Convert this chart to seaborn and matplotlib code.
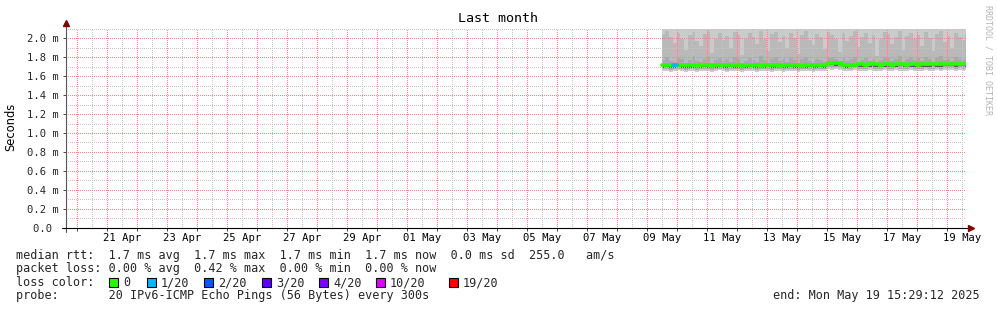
import matplotlib
matplotlib.use("Agg")
import matplotlib.pyplot as plt
import matplotlib.dates as mdates
from matplotlib.patches import Rectangle
from matplotlib.ticker import FuncFormatter, MultipleLocator, FixedLocator
import numpy as np
import pandas as pd
import seaborn as sns

# ---------------- data ----------------
title = "Last month"
start_time = "2025-04-19 15:29:12"
end_time = "2025-05-19 15:29:12"
data_start = "2025-05-09 12:00"
data_step = "3h"

median_ms = [1.72, 1.72, 1.715, 1.72, 1.72, 1.715, 1.715, 1.72, 1.715, 1.71,
             1.715, 1.72, 1.715, 1.71, 1.715, 1.72, 1.715, 1.72, 1.72, 1.715,
             1.715, 1.71, 1.715, 1.72, 1.715, 1.715, 1.71, 1.715, 1.72, 1.715,
             1.715, 1.71, 1.715, 1.715, 1.72, 1.715, 1.715, 1.71, 1.715, 1.72,
             1.715, 1.715, 1.72, 1.715, 1.745, 1.745, 1.74, 1.745, 1.72, 1.715,
             1.72, 1.72, 1.725, 1.725, 1.72, 1.725, 1.725, 1.725, 1.72, 1.725,
             1.725, 1.72, 1.725, 1.73, 1.725, 1.72, 1.725, 1.725, 1.72, 1.725,
             1.725, 1.725, 1.73, 1.725, 1.725, 1.73, 1.735, 1.73, 1.725, 1.73,
             1.73, 1.725]

smoke_min_ms = [1.655, 1.66, 1.65, 1.655, 1.665, 1.655, 1.65, 1.66, 1.655, 1.645,
                1.655, 1.66, 1.655, 1.65, 1.655, 1.665, 1.655, 1.65, 1.655, 1.66,
                1.655, 1.645, 1.655, 1.66, 1.655, 1.65, 1.655, 1.66, 1.655, 1.65,
                1.66, 1.655, 1.65, 1.655, 1.66, 1.655, 1.65, 1.655, 1.66, 1.655,
                1.65, 1.655, 1.66, 1.655, 1.675, 1.67, 1.675, 1.67, 1.66, 1.655,
                1.66, 1.665, 1.66, 1.655, 1.66, 1.665, 1.66, 1.655, 1.66, 1.665,
                1.66, 1.655, 1.665, 1.66, 1.66, 1.655, 1.665, 1.66, 1.655, 1.66,
                1.665, 1.66, 1.655, 1.665, 1.66, 1.665, 1.67, 1.665, 1.66, 1.665,
                1.66, 1.665]

smoke_q25_ms = [1.675, 1.68, 1.67, 1.675, 1.68, 1.675, 1.67, 1.675, 1.68, 1.67,
                1.675, 1.68, 1.675, 1.67, 1.675, 1.68, 1.675, 1.67, 1.675, 1.68,
                1.675, 1.67, 1.675, 1.68, 1.675, 1.67, 1.675, 1.68, 1.675, 1.67,
                1.68, 1.675, 1.67, 1.675, 1.68, 1.675, 1.67, 1.675, 1.68, 1.675,
                1.67, 1.675, 1.68, 1.675, 1.695, 1.69, 1.695, 1.69, 1.68, 1.675,
                1.68, 1.685, 1.68, 1.675, 1.68, 1.685, 1.68, 1.675, 1.68, 1.685,
                1.68, 1.675, 1.685, 1.68, 1.68, 1.675, 1.685, 1.68, 1.675, 1.68,
                1.685, 1.68, 1.675, 1.685, 1.68, 1.685, 1.69, 1.685, 1.68, 1.685,
                1.68, 1.685]

smoke_q45_ms = [1.69, 1.695, 1.685, 1.69, 1.695, 1.69, 1.685, 1.69, 1.69, 1.685,
                1.69, 1.695, 1.69, 1.685, 1.69, 1.695, 1.69, 1.69, 1.695, 1.69,
                1.69, 1.685, 1.69, 1.695, 1.69, 1.69, 1.685, 1.69, 1.695, 1.69,
                1.69, 1.685, 1.69, 1.69, 1.695, 1.69, 1.69, 1.685, 1.69, 1.695,
                1.69, 1.69, 1.695, 1.69, 1.715, 1.715, 1.71, 1.715, 1.695, 1.69,
                1.695, 1.695, 1.70, 1.70, 1.695, 1.70, 1.70, 1.70, 1.695, 1.70,
                1.70, 1.695, 1.70, 1.705, 1.70, 1.695, 1.70, 1.70, 1.695, 1.70,
                1.70, 1.70, 1.705, 1.70, 1.70, 1.705, 1.71, 1.705, 1.70, 1.705,
                1.705, 1.70]

smoke_mid_ms = [1.77, 1.80, 1.76, 1.75, 1.79, 1.78, 1.74, 1.77, 1.81, 1.76,
                1.75, 1.78, 1.80, 1.74, 1.77, 1.79, 1.76, 1.78, 1.75, 1.80,
                1.78, 1.74, 1.76, 1.79, 1.77, 1.75, 1.81, 1.77, 1.74, 1.78,
                1.80, 1.76, 1.78, 1.75, 1.79, 1.77, 1.74, 1.78, 1.80, 1.76,
                1.75, 1.78, 1.77, 1.75, 1.79, 1.80, 1.78, 1.76, 1.79, 1.76,
                1.78, 1.80, 1.75, 1.77, 1.79, 1.76, 1.78, 1.74, 1.77, 1.80,
                1.79, 1.76, 1.78, 1.81, 1.75, 1.78, 1.80, 1.77, 1.79, 1.76,
                1.80, 1.78, 1.75, 1.79, 1.81, 1.77, 1.78, 1.76, 1.80, 1.78,
                1.77, 1.79]

smoke_hi_ms = [2.05, 2.08, 2.02, 1.95, 2.06, 2.00, 1.88, 2.04, 2.07, 1.97,
               1.92, 2.05, 2.08, 1.85, 2.00, 2.06, 1.98, 2.03, 1.90, 2.07,
               2.04, 1.83, 1.99, 2.06, 2.02, 1.94, 2.08, 2.00, 1.87, 2.05,
               2.07, 1.96, 2.03, 1.90, 2.06, 2.01, 1.84, 2.04, 2.08, 1.98,
               1.93, 2.05, 2.02, 1.89, 2.07, 2.04, 2.00, 1.86, 2.06, 1.97,
               2.03, 2.08, 1.91, 2.02, 2.06, 1.95, 2.04, 1.82, 2.00, 2.07,
               2.05, 1.94, 2.02, 2.08, 1.88, 2.03, 2.06, 1.99, 2.04, 1.92,
               2.07, 2.01, 1.87, 2.05, 2.08, 1.96, 2.03, 1.90, 2.06, 2.02,
               1.98, 2.04]

smoke_max_ms = [2.35, 2.6, 2.25, 2.4, 2.8, 2.3, 2.5, 2.45, 2.7, 2.3,
                2.4, 2.55, 2.9, 2.3, 2.45, 2.6, 2.35, 2.5, 2.4, 2.75,
                2.3, 2.45, 2.6, 2.35, 2.5, 2.8, 2.4, 2.3, 2.55, 2.65,
                2.35, 2.5, 2.4, 2.7, 2.3, 2.45, 2.6, 2.35, 2.85, 2.4,
                2.5, 2.3, 2.65, 2.45, 2.4, 2.55, 2.35, 2.7, 2.5, 2.3,
                2.45, 2.6, 2.4, 2.35, 2.75, 2.5, 2.3, 2.45, 2.6, 2.4,
                2.55, 2.35, 2.8, 2.45, 2.3, 2.5, 2.65, 2.4, 2.35, 2.55,
                2.7, 2.3, 2.45, 2.6, 2.4, 2.5, 2.35, 2.75, 2.45, 2.3,
                2.55, 2.4]

loss_count = [0, 0, 0, 1, 0, 0, 0, 0, 0, 0,
              0, 0, 0, 0, 0, 0, 0, 0, 0, 0,
              0, 0, 0, 0, 0, 0, 0, 0, 0, 0,
              0, 0, 0, 0, 0, 0, 0, 0, 0, 0,
              0, 0, 0, 0, 0, 0, 0, 0, 0, 0,
              0, 0, 0, 0, 0, 0, 0, 0, 0, 0,
              0, 0, 0, 0, 0, 0, 0, 0, 0, 0,
              0, 0, 0, 0, 0, 0, 0, 0, 0, 0,
              0, 0]

loss_thresholds = [0, 1, 2, 3, 4, 10, 19]
loss_labels = ["0", "1/20", "2/20", "3/20", "4/20", "10/20", "19/20"]
loss_colors = ["#26ff00", "#00b8ff", "#0059ff", "#5e00ff", "#7e00ff", "#dd00ff", "#ff0000"]

legend_line1 = "median rtt:  1.7 ms avg  1.7 ms max  1.7 ms min  1.7 ms now  0.0 ms sd  255.0   am/s"
legend_line2 = "packet loss: 0.00 % avg  0.42 % max  0.00 % min  0.00 % now"
legend_line3 = "loss color:"
legend_line4 = "probe:       20 IPv6-ICMP Echo Pings (56 Bytes) every 300s"
end_text = "end: Mon May 19 15:29:12 2025"
watermark = "RRDTOOL / TOBI OETIKER"
y_label = "Seconds"

# ---------------- style ----------------
sns.set_style("white")
plt.rcParams["font.family"] = ["DejaVu Sans Mono"]
MONO = "DejaVu Sans Mono"

W, H = 997, 310
fig = plt.figure(figsize=(W / 100, H / 100), dpi=100)
fig.patch.set_facecolor("white")

ax_left, ax_right, ax_bottom = 66.0, 966.0, 227.5
px_per_ms = 94.5
ymax = 2.1
ax = fig.add_axes([ax_left / W, (H - ax_bottom) / H, (ax_right - ax_left) / W,
                   ymax * px_per_ms / H])
ax.set_facecolor("white")

times = pd.date_range(data_start, periods=len(median_ms), freq=data_step)
t_ext = list(times) + [pd.Timestamp(end_time)]


def ext(a):
    return list(a) + [a[-1]]


# smoke bands
bands = [
    (smoke_min_ms, smoke_max_ms, "#cbcbcb"),
    (smoke_q25_ms, smoke_hi_ms, "#b9b9b9"),
    (smoke_q25_ms, smoke_mid_ms, "#a9a9a9"),
    (smoke_q45_ms, median_ms, "#5c5c5c"),
]
for lo, hi, col in bands:
    ax.fill_between(t_ext, ext(lo), ext(hi), step="post", color=col, lw=0, zorder=1)

# median line
sns.lineplot(data=pd.DataFrame({"time": t_ext, "median": ext(median_ms)}),
             x="time", y="median", color=loss_colors[0], lw=2.6,
             drawstyle="steps-post", ax=ax, zorder=4)

# loss-colored segments
for i, lc in enumerate(loss_count):
    if lc > 0:
        k = max(j for j, th in enumerate(loss_thresholds) if lc >= th)
        seg = pd.DataFrame({"time": [t_ext[i], t_ext[i + 1]],
                            "median": [median_ms[i], median_ms[i]]})
        sns.lineplot(data=seg, x="time", y="median", color=loss_colors[k], lw=2.6,
                     ax=ax, zorder=5)

t0, t1 = pd.Timestamp(start_time), pd.Timestamp(end_time)
ax.set_xlim(t0, t1)
ax.set_ylim(0, ymax)
ax.set_xlabel("")
ax.set_ylabel("")
ax.grid(False)

# explicit grid lines (RRDtool style dotted)
days = pd.date_range(t0.normalize() + pd.Timedelta(days=1), t1, freq="D")
noons = pd.date_range(t0.normalize() + pd.Timedelta(hours=12), t1, freq="D")
noons = [n for n in noons if n > t0]
y_major = [0.2 * k for k in range(1, 11)]
y_minor = [0.1 * k for k in range(1, 22, 2)]
dot = (0, (1.0, 1.4))
ax.vlines(noons, 0, ymax, colors="#c4c4c4", lw=0.72, linestyles=[dot],
          antialiased=False, zorder=2)
ax.hlines(y_minor, t0, t1, colors="#c4c4c4", lw=0.72, linestyles=[dot],
          antialiased=False, zorder=2)
ax.vlines(days, 0, ymax, colors="#f08888", lw=0.72, linestyles=[dot],
          antialiased=False, zorder=2.1)
ax.hlines(y_major, t0, t1, colors="#f08888", lw=0.72, linestyles=[dot],
          antialiased=False, zorder=2.1)

# ticks & labels
ax.xaxis.set_major_locator(FixedLocator(mdates.date2num(days)))
label_noons = [n for n in noons if (n - pd.Timestamp("2025-04-21 12:00")).days % 2 == 0]
ax.xaxis.set_minor_locator(FixedLocator(mdates.date2num(label_noons)))
ax.xaxis.set_major_formatter(FuncFormatter(lambda v, p: ""))
ax.xaxis.set_minor_formatter(FuncFormatter(
    lambda v, p: mdates.num2date(v).strftime("%d %b")))
ax.yaxis.set_major_locator(MultipleLocator(0.2))
ax.yaxis.set_major_formatter(FuncFormatter(
    lambda v, p: "0.0 " if abs(v) < 1e-9 else f"{v:.1f} m"))

ax.tick_params(axis="x", which="major", length=2, width=0.7, color="#444444",
               direction="out", bottom=True)
ax.tick_params(axis="x", which="minor", length=0, pad=4, labelsize=7.6,
               labelcolor="black", bottom=True)
ax.tick_params(axis="y", which="major", length=2, width=0.7, color="#444444",
               direction="out", pad=3.2, labelsize=7.6, left=True)
for lab in ax.get_xticklabels(minor=True) + ax.get_yticklabels():
    lab.set_fontfamily(MONO)

for s in ax.spines.values():
    s.set_visible(False)

# axis lines with arrows
axw = ax_right - ax_left
axh = ymax * px_per_ms
ax.plot([0, 0], [-4 / axh, (ax_bottom - 23) / axh], color="#555555", lw=0.8,
        transform=ax.transAxes, clip_on=False, zorder=6)
ax.plot([0], [(ax_bottom - 23) / axh], marker="^", ms=4.5, color="#800000",
        mec="#800000", transform=ax.transAxes, clip_on=False, zorder=7)
ax.plot([-4 / axw, (971 - ax_left) / axw], [0, 0], color="black", lw=0.8,
        transform=ax.transAxes, clip_on=False, zorder=6)
ax.plot([(971 - ax_left) / axw], [0], marker=">", ms=4.5, color="#800000",
        mec="#800000", transform=ax.transAxes, clip_on=False, zorder=7)

# texts


def fx(px):
    return px / W


def fy(py):
    return 1 - py / H


fig.text(fx(498), fy(19), title, ha="center", va="center", fontsize=9.6,
         family=MONO, color="black")
fig.text(fx(11), fy(127), y_label, ha="center", va="center", rotation=90,
         fontsize=8.3, family="DejaVu Sans", color="black")
fig.text(fx(988), fy(60), watermark, ha="center", va="center", rotation=270,
         fontsize=6, family=MONO, color="#b4b4b4")

leg_fs = 8.5
fig.text(fx(16), fy(255), legend_line1, ha="left", va="center", fontsize=leg_fs, family=MONO)
fig.text(fx(16), fy(268.5), legend_line2, ha="left", va="center", fontsize=leg_fs, family=MONO)
fig.text(fx(16), fy(282.5), legend_line3, ha="left", va="center", fontsize=leg_fs, family=MONO)
fig.text(fx(16), fy(296), legend_line4, ha="left", va="center", fontsize=leg_fs, family=MONO)
fig.text(fx(980), fy(296), end_text, ha="right", va="center", fontsize=leg_fs, family=MONO)

box_x = [108.5, 146.5, 203.5, 261.5, 318.5, 375.5, 448.5]
box = 9
for bx, lab, col in zip(box_x, loss_labels, loss_colors):
    fig.patches.append(Rectangle((fx(bx), fy(282.5 + box / 2)), box / W, box / H,
                                 transform=fig.transFigure, facecolor=col,
                                 edgecolor="black", lw=0.8))
    fig.text(fx(bx + 14.5), fy(282.5), lab, ha="left", va="center",
             fontsize=leg_fs, family=MONO)

fig.savefig("out.png", dpi=100, facecolor="white")
